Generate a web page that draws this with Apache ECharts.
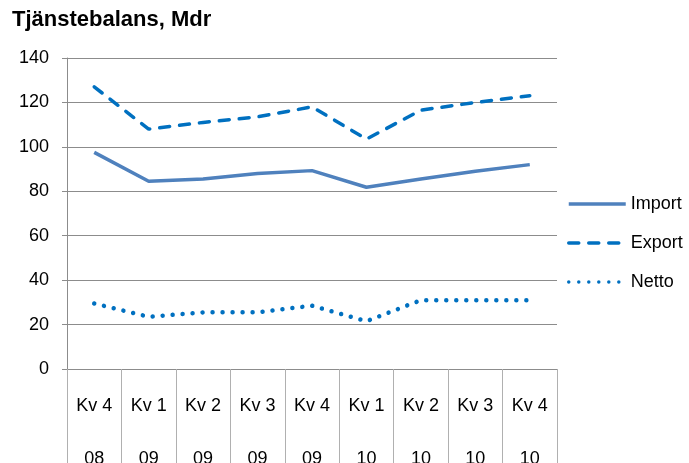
<!DOCTYPE html>
<html>
<head>
<meta charset="utf-8">
<script src="https://cdn.jsdelivr.net/npm/echarts@6/dist/echarts.min.js"></script>
<style>
  html, body { margin: 0; padding: 0; background: #fff; }
  #chart { width: 689px; height: 463px; }
</style>
</head>
<body>
<div id="chart"></div>
<script>
// Quarter labels (quarter on the first line, year below)
const quarters = ['Kv 4', 'Kv 1', 'Kv 2', 'Kv 3', 'Kv 4', 'Kv 1', 'Kv 2', 'Kv 3', 'Kv 4'];
const years = ['08', '09', '09', '09', '09', '10', '10', '10', '10'];

// Service balance, billions SEK
const importValues = [97.5, 84.5, 85.5, 88, 89.3, 81.8, 85.5, 89, 92];
const exportValues = [127, 108, 111, 113.5, 118, 103.5, 116.5, 120, 123];
const nettoValues = [29.5, 23.5, 25.5, 25.5, 28.5, 21.5, 31, 31, 31];

// Value axis ticks
const yTicks = { min: 0, max: 140, interval: 20 };

const categories = quarters.map((q, i) => q + '\n\n' + years[i]);

const font = '"Liberation Sans", Arial, sans-serif';
const gridColor = '#8c8c8c';

const chart = echarts.init(document.getElementById('chart'), null, { renderer: 'canvas' });
chart.setOption({
  animation: false,
  backgroundColor: '#ffffff',
  title: {
    text: 'Tjänstebalans, Mdr',
    left: 12,
    top: 9,
    padding: 0,
    textStyle: { fontFamily: font, fontSize: 22, fontWeight: 'bold', color: '#000' }
  },
  legend: {
    orient: 'vertical',
    left: 567,
    top: 195,
    padding: 0,
    itemWidth: 57,
    itemHeight: 20,
    itemGap: 21,
    itemStyle: { opacity: 0 },
    lineStyle: { width: 3.5 },
    textStyle: { fontFamily: font, fontSize: 18, color: '#000' },
    data: ['Import', 'Export', 'Netto']
  },
  grid: {
    left: 67, right: 132, top: 58, bottom: 94,
    containLabel: false,
    outerBoundsMode: 'none'
  },
  xAxis: {
    type: 'category',
    data: categories,
    boundaryGap: true,
    axisLine: { show: true, lineStyle: { color: gridColor, width: 1 } },
    axisTick: { show: true, length: 100, lineStyle: { color: '#b0b0b0', width: 1 } },
    axisLabel: {
      interval: 0,
      margin: 24,
      fontFamily: font,
      fontSize: 18,
      lineHeight: 26.5,
      color: '#000'
    }
  },
  yAxis: {
    type: 'value',
    min: yTicks.min,
    max: yTicks.max,
    interval: yTicks.interval,
    axisLine: { show: true, lineStyle: { color: gridColor, width: 1 } },
    axisTick: { show: true, length: 5, lineStyle: { color: gridColor } },
    axisLabel: { margin: 18, fontFamily: font, fontSize: 18, color: '#000' },
    splitLine: { show: true, lineStyle: { color: gridColor, width: 1 } }
  },
  series: [
    {
      name: 'Import',
      type: 'line',
      data: importValues,
      symbol: 'none',
      color: '#4f81bd',
      lineStyle: { color: '#4f81bd', width: 3.5 }
    },
    {
      name: 'Export',
      type: 'line',
      data: exportValues,
      symbol: 'none',
      color: '#0070c0',
      lineStyle: { color: '#0070c0', width: 3.5, type: [10, 10], cap: 'round' }
    },
    {
      name: 'Netto',
      type: 'line',
      data: nettoValues,
      symbol: 'none',
      color: '#0070c0',
      lineStyle: { color: '#0070c0', width: 4.5, type: [0.01, 10], cap: 'round' }
    }
  ]
});
</script>
</body>
</html>
